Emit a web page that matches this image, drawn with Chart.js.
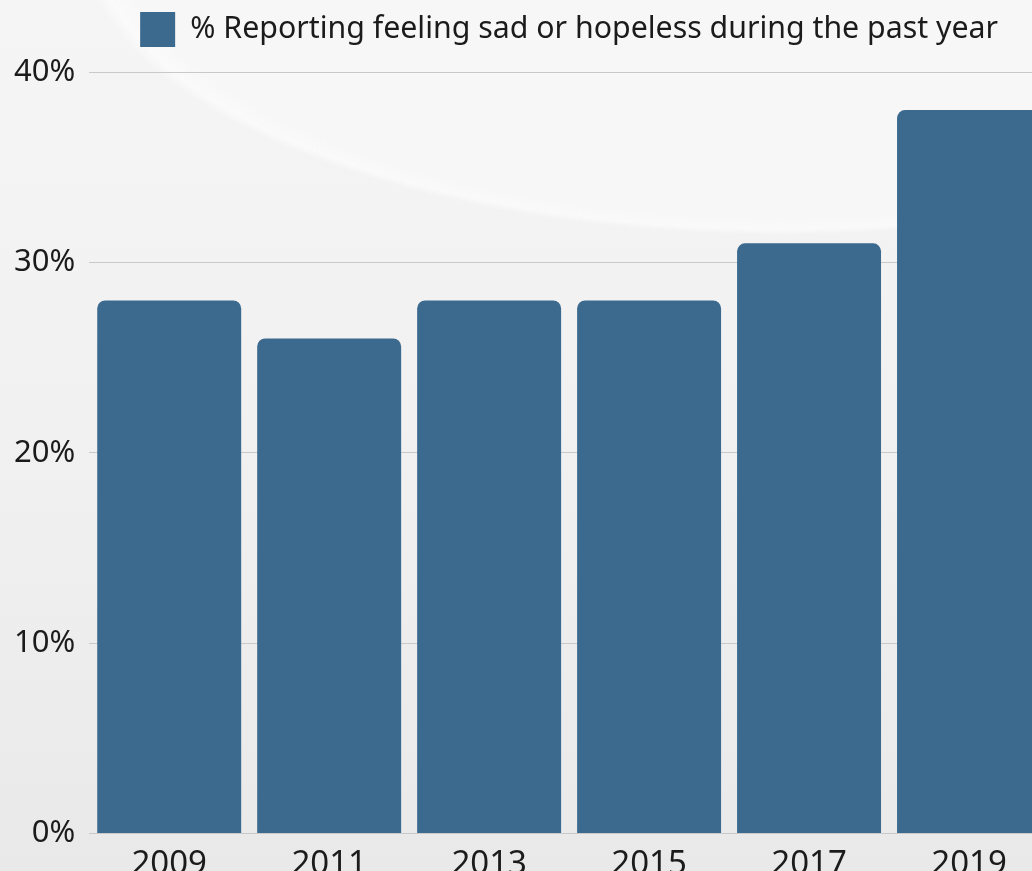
<!DOCTYPE html>
<html>
<head>
<meta charset="utf-8">
<script src="https://cdn.jsdelivr.net/npm/chart.js@4"></script>
<style>
  html, body { margin: 0; padding: 0; overflow: hidden; }
  body {
    width: 1032px; height: 871px;
    background:
      radial-gradient(ellipse 700px 300px at 780px -65px, #f7f7f7 0%, #f7f7f7 94%, rgba(255,255,255,0.55) 98%, rgba(255,255,255,0) 100%),
      linear-gradient(180deg, #f5f5f5 0%, #f1f1f1 50%, #e9e9e9 100%);
  }
  #wrap { position: absolute; left: 0; top: 0; width: 1128px; height: 897px; }
</style>
</head>
<body>
<div id="wrap"><canvas id="chart-sad"></canvas></div>
<script>
// Data
const years = ['2009', '2011', '2013', '2015', '2017', '2019'];
const sadPct = [28, 26, 28, 28, 31, 38];
const seriesLabel = '% Reporting feeling sad or hopeless during the past year';

const barColor = '#3c6a8f';
const textColor = '#1b1b1b';
const gridColor = '#c9c9c9';

Chart.defaults.font.family = '"Noto Sans", sans-serif';
Chart.defaults.color = textColor;

// push the plot down a bit under the legend
const legendGap = {
    id: 'legendGap',
    beforeInit(chart) {
        const fit = chart.legend.fit;
        chart.legend.fit = function () {
            fit.bind(chart.legend)();
            this.height += 15;
        };
    }
};

new Chart(document.getElementById('chart-sad'), {
    type: 'bar',
    data: {
        labels: years,
        datasets: [{
            label: seriesLabel,
            data: sadPct,
            backgroundColor: barColor,
            borderRadius: 8,
            categoryPercentage: 0.9,
            barPercentage: 1
        }]
    },
    options: {
        responsive: true,
        maintainAspectRatio: false,
        animation: false,
        layout: { padding: { left: 0, right: 79, top: 0, bottom: 2 } },
        scales: {
            y: {
                min: 0, max: 40,
                ticks: { stepSize: 10, padding: 14, font: { size: 31 }, color: textColor,
                    callback: v => v + '%' },
                grid: { color: gridColor, drawTicks: false },
                border: { display: false }
            },
            x: {
                ticks: { font: { size: 33 }, color: textColor, padding: 11 },
                grid: { display: false, drawTicks: false },
                border: { color: gridColor, width: 1 }
            }
        },
        plugins: {
            legend: {
                fullSize: false,
                labels: { boxWidth: 35, boxHeight: 35, font: { size: 30.3 }, color: textColor, padding: 12 }
            },
            tooltip: { enabled: false }
        }
    },
    plugins: [legendGap]
});
</script>
</body>
</html>
